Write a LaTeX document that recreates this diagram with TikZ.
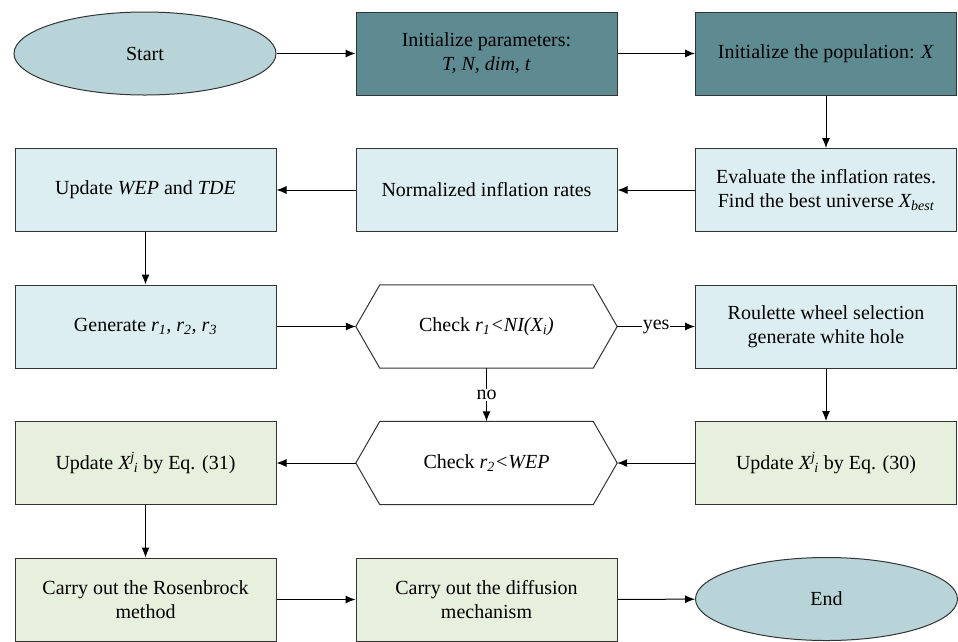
\documentclass[tikz,border=0pt]{standalone}
\usepackage{fontspec}
\setmainfont{Liberation Serif}
\usetikzlibrary{arrows.meta,shapes.geometric}
\definecolor{tealbox}{HTML}{5E8B92}
\definecolor{ovalfill}{HTML}{B9D4D8}
\definecolor{bluebox}{HTML}{DCEEF2}
\definecolor{greenbox}{HTML}{E6F0DD}
\newcommand{\Xji}{\textit{X\textsuperscript{j}\kern-.05em\textsubscript{i}}}

\begin{document}
\begin{tikzpicture}[x=1pt,y=-1pt,font=\rmfamily\fontsize{20}{24}\selectfont,
  box/.style={draw=black!80,line width=1pt,minimum width=261pt,minimum height=83pt,inner sep=0pt,align=center},
  term/.style={box,ellipse,fill=ovalfill,minimum width=262pt},
  check/.style={minimum width=261pt,minimum height=83pt,inner sep=0pt,align=center}]
\useasboundingbox (0,0) rectangle (958,641);
% row 1
\node[term] (start) at (145,53.5) {Start};
\node[box,fill=tealbox] (init) at (486.5,53.5) {Initialize parameters:\\\textit{T, N, dim, t}};
\node[box,fill=tealbox] (pop) at (826,53.5) {Initialize the population: \textit{X}};
% row 2
\node[box,fill=bluebox] (eval) at (826,190) {Evaluate the inflation rates.\\Find the best universe \textit{X\textsubscript{best}}};
\node[box,fill=bluebox] (norm) at (486.5,190) {Normalized inflation rates};
\node[box,fill=bluebox] (wep) at (145.5,190) {Update \textit{WEP} and \textit{TDE}};
% row 3
\node[box,fill=bluebox] (gen) at (145.5,326.5) {Generate \textit{r\textsubscript{1}, r\textsubscript{2}, r\textsubscript{3}}};
\node[check] (chkA) at (486.5,326.5) {Check \textit{r\textsubscript{1}<NI(X\textsubscript{i})}};
\node[box,fill=bluebox] (roul) at (826,326.5) {Roulette wheel selection\\generate white hole};
% row 4
\node[box,fill=greenbox] (upd30) at (826,463) {Update \Xji{} by Eq. (30)};
\node[check] (chkB) at (486.5,463) {Check \textit{r\textsubscript{2}<WEP}};
\node[box,fill=greenbox] (upd31) at (145.5,463) {Update \Xji{} by Eq. (31)};
% row 5
\node[box,fill=greenbox] (rosen) at (145.5,599.5) {Carry out the Rosenbrock\\method};
\node[box,fill=greenbox] (diff) at (486.5,599.5) {Carry out the diffusion\\mechanism};
\node[term] (end) at (826.5,599) {End};
% hexagons round the two checks
\foreach \c in {chkA,chkB}
  \draw[draw=black!80,line width=1pt] (\c.west) -- ([xshift=24pt]\c.north west) -- ([xshift=-24pt]\c.north east)
    -- (\c.east) -- ([xshift=-24pt]\c.south east) -- ([xshift=24pt]\c.south west) -- cycle;
\path[-{Latex[length=10pt,width=8pt]},line width=1pt]
(start) edge (init)
(init) edge (pop)
(pop) edge (eval)
(eval) edge (norm)
(norm) edge (wep)
(wep) edge (gen)
(gen) edge (chkA)
(chkA.east) edge node[fill=white,inner sep=1pt]{yes} (roul)
(chkA.south) edge node[fill=white,inner sep=1pt]{no} (chkB.north)
(roul) edge (upd30)
(upd30) edge (chkB.east)
(chkB.west) edge (upd31)
(upd31) edge (rosen)
(rosen) edge (diff)
(diff) edge (end);
\end{tikzpicture}
\end{document}
